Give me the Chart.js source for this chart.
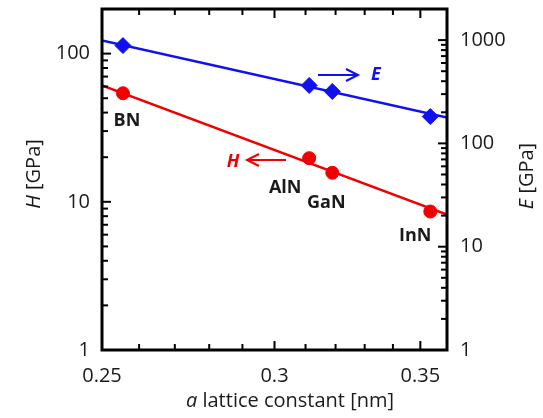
<!DOCTYPE html>
<html>
<head>
<meta charset="utf-8">
<script src="https://cdn.jsdelivr.net/npm/chart.js@4"></script>
<style>
  html, body { margin: 0; padding: 0; background: #fff; }
  #wrap { width: 543px; height: 418px; }
</style>
</head>
<body>
<div id="wrap"><canvas id="chart" width="543" height="418"></canvas></div>
<script>
// data
var materials = ['BN', 'AlN', 'GaN', 'InN'];
var latticeA = [0.2556, 0.3112, 0.3189, 0.3537];
var hardness = [54, 19.7, 15.7, 8.6];
var modulus = [885, 364, 318, 182];

// power-law fits (straight on log-log)
var fitX = [0.25, 0.36];
var hardnessFit = [61, 8.2];
var modulusFit = [989, 178];

// tick labels and minor ticks
var xLabels = [0.25, 0.3, 0.35];
var xMinor = [0.26, 0.27, 0.28, 0.29, 0.31, 0.32, 0.33, 0.34];
var hLabels = [1, 10, 100];
var eLabels = [1, 10, 100, 1000];

var FONT = "'Open Sans', sans-serif";
Chart.defaults.font.family = FONT;
Chart.defaults.color = '#1a1a1a';

function pts(xs, ys) {
    return xs.map(function(x, i) { return { x: x, y: ys[i] }; });
}

function decadeMinors(lo, hi) {
    var out = [];
    for (var d = lo; d < hi; d *= 10) {
        for (var k = 2; k <= 9; k++) out.push(d * k);
    }
    return out;
}

var framePlugin = {
    id: 'frame',
    afterDraw: function(chart) {
        var ctx = chart.ctx;
        var a = chart.chartArea;
        var xs = chart.scales.x, yl = chart.scales.yH, yr = chart.scales.yE;
        ctx.save();
        ctx.strokeStyle = '#000';
        ctx.lineCap = 'butt';

        // inward ticks
        ctx.lineWidth = 2;
        function vtick(v, len) {
            var px = xs.getPixelForValue(v);
            ctx.beginPath();
            ctx.moveTo(px, a.bottom); ctx.lineTo(px, a.bottom - len);
            ctx.moveTo(px, a.top); ctx.lineTo(px, a.top + len);
            ctx.stroke();
        }
        xMinor.forEach(function(v) { vtick(v, 6); });
        xLabels.forEach(function(v) { vtick(v, 9); });

        function htick(scale, v, len, left) {
            var py = scale.getPixelForValue(v);
            if (py < a.top + 1 || py > a.bottom - 1) return;
            ctx.beginPath();
            if (left) { ctx.moveTo(a.left, py); ctx.lineTo(a.left + len, py); }
            else { ctx.moveTo(a.right, py); ctx.lineTo(a.right - len, py); }
            ctx.stroke();
        }
        decadeMinors(1, 100).concat([200]).forEach(function(v) { htick(yl, v, 6, true); });
        hLabels.forEach(function(v) { htick(yl, v, 9, true); });
        decadeMinors(1, 1000).concat([2000]).forEach(function(v) { htick(yr, v, 6, false); });
        eLabels.forEach(function(v) { htick(yr, v, 9, false); });

        // frame
        ctx.lineWidth = 3;
        ctx.strokeRect(a.left, a.top, a.right - a.left, a.bottom - a.top);

        // material labels under the hardness points
        var offs = [[4, 28], [-24, 30], [-6, 30], [-15, 24]];
        ctx.fillStyle = '#1a1a1a';
        ctx.font = 'bold 18px ' + FONT;
        ctx.textAlign = 'center';
        ctx.textBaseline = 'middle';
        materials.forEach(function(m, i) {
            var px = xs.getPixelForValue(latticeA[i]);
            var py = yl.getPixelForValue(hardness[i]);
            ctx.fillText(m, px + offs[i][0], py + offs[i][1]);
        });

        // arrows
        function arrow(x0, x1, y, color) {
            ctx.strokeStyle = color;
            ctx.lineWidth = 2;
            var dir = x1 > x0 ? 1 : -1;
            ctx.beginPath();
            ctx.moveTo(x0, y); ctx.lineTo(x1, y);
            ctx.moveTo(x1 - dir * 12, y - 6); ctx.lineTo(x1, y); ctx.lineTo(x1 - dir * 12, y + 6);
            ctx.stroke();
        }
        arrow(286, 247, 160, '#f00000');
        arrow(318, 358, 75, '#1010f0');
        ctx.font = 'italic bold 18px ' + FONT;
        ctx.fillStyle = '#f00000';
        ctx.fillText('H', 233, 162);
        ctx.fillStyle = '#1010f0';
        ctx.fillText('E', 376, 75);

        // axis titles with italic symbols
        function mixed(sym, rest, cx, cy, rot) {
            ctx.save();
            ctx.translate(cx, cy);
            ctx.rotate(rot);
            ctx.fillStyle = '#1a1a1a';
            ctx.textBaseline = 'middle';
            ctx.textAlign = 'left';
            var fi = 'italic 20px ' + FONT, fn = '20px ' + FONT;
            ctx.font = fi; var w1 = ctx.measureText(sym).width;
            ctx.font = fn; var w2 = ctx.measureText(rest).width;
            var x = -(w1 + w2) / 2;
            ctx.font = fi; ctx.fillText(sym, x, 0);
            ctx.font = fn; ctx.fillText(rest, x + w1, 0);
            ctx.restore();
        }
        mixed('H', ' [GPa]', 34, 174, -Math.PI / 2);
        mixed('E', ' [GPa]', 527, 176, -Math.PI / 2);
        mixed('a', ' lattice constant [nm]', 290, 401, 0);
        ctx.restore();
    }
};

function fixedTicks(vals) {
    return function(scale) {
        scale.ticks = vals.map(function(v) { return { value: v }; });
    };
}

function noPad(size) {
    return function(s) {
        if (s.isHorizontal()) { s.height = size; } else { s.width = size; }
        s.paddingTop = 0; s.paddingBottom = 0;
        s.paddingLeft = 0; s.paddingRight = 0;
    };
}

new Chart(document.getElementById('chart'), {
    type: 'scatter',
    data: {
        datasets: [
            {
                label: 'H fit', type: 'line', data: pts(fitX, hardnessFit), yAxisID: 'yH',
                borderColor: '#f00000', borderWidth: 2.5, pointRadius: 0, fill: false
            },
            {
                label: 'E fit', type: 'line', data: pts(fitX, modulusFit), yAxisID: 'yE',
                borderColor: '#1010f0', borderWidth: 2.5, pointRadius: 0, fill: false
            },
            {
                label: 'H', data: pts(latticeA, hardness), yAxisID: 'yH',
                backgroundColor: '#f00000', borderColor: '#f00000',
                pointStyle: 'circle', pointRadius: 6.5
            },
            {
                label: 'E', data: pts(latticeA, modulus), yAxisID: 'yE',
                backgroundColor: '#1010f0', borderColor: '#1010f0',
                pointStyle: 'rectRot', pointRadius: 8
            }
        ]
    },
    options: {
        responsive: false,
        animation: false,
        layout: { padding: { top: 7, left: 0, right: 0, bottom: 0 } },
        plugins: { legend: { display: false }, tooltip: { enabled: false } },
        scales: {
            x: {
                type: 'logarithmic', min: 0.25, max: 0.36,
                afterBuildTicks: fixedTicks(xLabels),
                afterFit: noPad(68),
                grid: { display: false, drawTicks: false },
                border: { display: false },
                ticks: {
                    autoSkip: false, maxRotation: 0, padding: 14,
                    font: { size: 20 },
                    callback: function(v) { return String(v); }
                }
            },
            yH: {
                type: 'logarithmic', position: 'left', min: 1, max: 200,
                afterBuildTicks: fixedTicks(hLabels),
                afterFit: noPad(102),
                grid: { display: false, drawTicks: false },
                border: { display: false },
                ticks: {
                    autoSkip: false, padding: 12, font: { size: 20 },
                    callback: function(v) { return String(v); }
                }
            },
            yE: {
                type: 'logarithmic', position: 'right', min: 1, max: 2000,
                afterBuildTicks: fixedTicks(eLabels),
                afterFit: noPad(96),
                grid: { display: false, drawTicks: false },
                border: { display: false },
                ticks: {
                    autoSkip: false, padding: 13, font: { size: 20 },
                    callback: function(v) { return String(v); }
                }
            }
        }
    },
    plugins: [framePlugin]
});
</script>
</body>
</html>
